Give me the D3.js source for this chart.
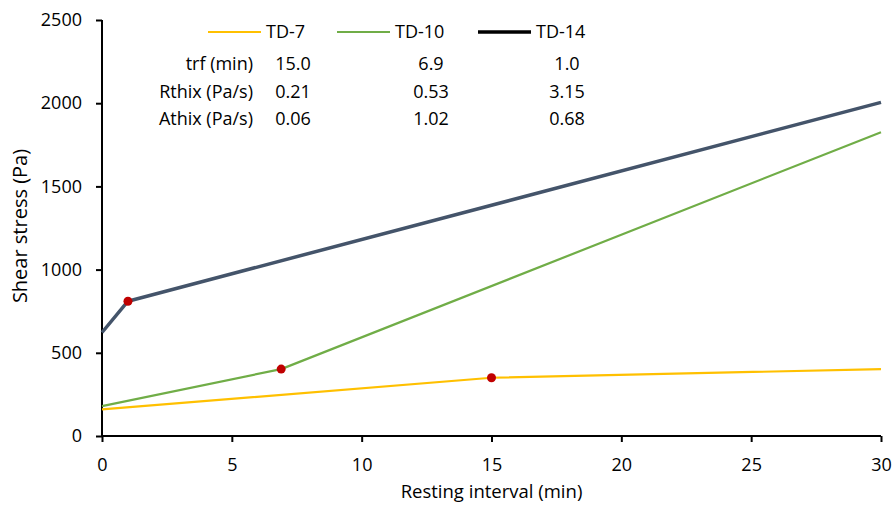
<!DOCTYPE html>
<html>
<head>
<meta charset="utf-8">
<script src="https://cdn.jsdelivr.net/npm/d3@7"></script>
<style>
  body { margin: 0; background: #fff; }
  text { font-family: "Open Sans", "Noto Sans", sans-serif; fill: #000; }
</style>
</head>
<body>
<div id="chart"></div>
<script>
// series: resting interval (min) vs shear stress (Pa)
const td7 = [[0, 160], [15, 350], [30, 402]];
const td10 = [[0, 180], [6.9, 402], [30, 1826]];
const td14 = [[0, 622], [1, 810], [30, 2005]];
// breakpoints (trf) marked in red
const breakPoints = [[1, 810], [6.9, 402], [15, 350]];

const seriesNames = ["TD-7", "TD-10", "TD-14"];
const xTicks = [0, 5, 10, 15, 20, 25, 30];
const yTicks = [0, 500, 1000, 1500, 2000, 2500];

// table shown under the legend
const rowLabels = ["trf (min)", "Rthix (Pa/s)", "Athix (Pa/s)"];
const trfValues = ["15.0", "6.9", "1.0"];
const rthixValues = ["0.21", "0.53", "3.15"];
const athixValues = ["0.06", "1.02", "0.68"];

const W = 893, H = 506;
const margin = {top: 20, right: 12, bottom: 70, left: 102};
const width = W - margin.left - margin.right;
const height = H - margin.top - margin.bottom;

const svg = d3.select("#chart")
    .append("svg")
    .attr("width", W)
    .attr("height", H)
    .append("g")
    .attr("transform", `translate(${margin.left}, ${margin.top})`);

// scales
const x = d3.scaleLinear().domain([0, 30]).range([0, width]);
const y = d3.scaleLinear().domain([0, 2500]).range([height, 0]);

// axes
svg.append("g")
    .attr("transform", `translate(0, ${height})`)
    .call(d3.axisBottom(x).tickValues(xTicks).tickFormat(d3.format("d")).tickSize(6).tickPadding(16))
    .call(g => g.selectAll(".domain").attr("stroke", "#000").attr("stroke-width", 2)
        .attr("d", `M0,0H${x(30)}`))
    .call(g => g.selectAll(".tick line").attr("stroke-width", 2))
    .selectAll("text")
    .style("font-size", "18px")
    .style("font-family", "'Open Sans', sans-serif");

svg.append("g")
    .call(d3.axisLeft(y).tickValues(yTicks).tickFormat(d3.format("d")).tickSize(6).tickPadding(14))
    .call(g => g.selectAll(".domain").attr("stroke-width", 2).attr("d", `M0,0V${height}`))
    .call(g => g.selectAll(".tick line").attr("stroke-width", 2))
    .selectAll("text")
    .style("font-size", "18px")
    .style("font-family", "'Open Sans', sans-serif");

// axis titles
svg.append("text")
    .attr("x", x(15))
    .attr("y", height + 62)
    .attr("text-anchor", "middle")
    .style("font-size", "18.5px")
    .text("Resting interval (min)");

svg.append("text")
    .attr("transform", `translate(${-75}, ${y(1250) - 2}) rotate(-90)`)
    .attr("text-anchor", "middle")
    .style("font-size", "20px")
    .text("Shear stress (Pa)");

// lines
const line = d3.line().x(d => x(d[0])).y(d => y(d[1]));
const series = [
    {name: "TD-7", data: td7, color: "#FFC000", w: 2.2, legendColor: "#FFC000"},
    {name: "TD-10", data: td10, color: "#70AD47", w: 2.2, legendColor: "#70AD47"},
    {name: "TD-14", data: td14, color: "#44546A", w: 3.5, legendColor: "#000"}
];

svg.selectAll("path.series")
    .data(series)
    .join("path")
    .attr("class", "series")
    .attr("fill", "none")
    .attr("stroke", d => d.color)
    .attr("stroke-width", d => d.w)
    .attr("stroke-linejoin", "round")
    .attr("d", d => line(d.data));

svg.selectAll("circle.bp")
    .data(breakPoints)
    .join("circle")
    .attr("class", "bp")
    .attr("cx", d => x(d[0]))
    .attr("cy", d => y(d[1]))
    .attr("r", 4.5)
    .attr("fill", "#C00000");

// legend
const legendX = [106, 235, 376];
const legend = svg.selectAll("g.legend")
    .data(series)
    .join("g")
    .attr("class", "legend")
    .attr("transform", (d, i) => `translate(${legendX[i]}, 12)`);

legend.append("line")
    .attr("x1", 0).attr("x2", 53)
    .attr("stroke", d => d.legendColor)
    .attr("stroke-width", d => d.w);

legend.append("text")
    .attr("x", 58)
    .attr("y", 6)
    .style("font-size", "18px")
    .text(d => d.name);

// table
const tableRows = [trfValues, rthixValues, athixValues];
const rowY = [50, 77.5, 105];
const colX = [191, 329, 465];

tableRows.forEach((vals, r) => {
    svg.append("text")
        .attr("x", 151)
        .attr("y", rowY[r])
        .attr("text-anchor", "end")
        .style("font-size", "18px")
        .text(rowLabels[r]);
    vals.forEach((v, c) => {
        svg.append("text")
            .attr("x", colX[c])
            .attr("y", rowY[r])
            .attr("text-anchor", "middle")
            .style("font-size", "18px")
            .text(v);
    });
});
</script>
</body>
</html>
